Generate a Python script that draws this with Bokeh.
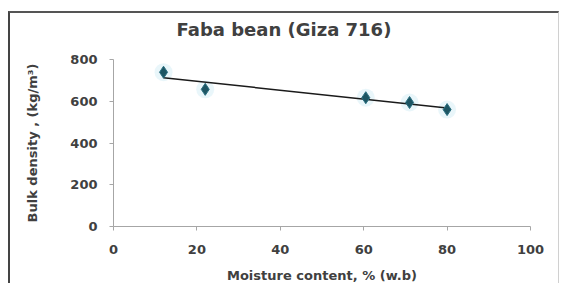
import numpy as np
from bokeh.plotting import figure
from bokeh.models import Range1d, FixedTicker, Title
from bokeh.embed import file_html
from bokeh.resources import INLINE

# Data
moisture = [12.0, 22.0, 60.5, 71.0, 80.0]
bulk_density = [739, 657, 617, 594, 560]
x_ticks = [0, 20, 40, 60, 80, 100]
y_ticks = [0, 200, 400, 600, 800]
title_text = "Faba bean (Giza 716)"

FONT = "DejaVu Sans"
TXT = "#404040"

p = figure(width=551, height=272, output_backend="svg", toolbar_location=None,
           x_range=Range1d(0, 100), y_range=Range1d(0, 800),
           min_border_left=103, min_border_right=31, min_border_top=46, min_border_bottom=58)
p.styles = {"border-left": "2px solid #444", "border-top": "2px solid #555",
            "border-right": "1px solid #d0d0d0", "margin-top": "11px", "margin-left": "8px"}
p.outline_line_color = None
p.xgrid.visible = False
p.ygrid.visible = False
p.background_fill_color = "white"
p.border_fill_color = "white"

spacer = Title(text=" ", text_font=FONT, text_font_size="12px", standoff=4)
p.add_layout(spacer, "above")
t = Title(text=title_text, align="left", offset=63,
          text_font=FONT, text_font_size="18px", text_font_style="bold",
          text_color=TXT, standoff=0)
p.add_layout(t, "above")

for ax in (p.xaxis[0], p.yaxis[0]):
    ax.axis_line_color = "#a6a6a6"
    ax.major_tick_line_color = "#a6a6a6"
    ax.major_tick_out = 4
    ax.major_tick_in = 0
    ax.minor_tick_line_color = None
    ax.major_label_text_font = FONT
    ax.major_label_text_font_size = "13px"
    ax.major_label_text_font_style = "bold"
    ax.major_label_text_color = TXT
    ax.axis_label_text_font = FONT
    ax.axis_label_text_font_style = "bold"
    ax.axis_label_text_color = TXT

p.xaxis[0].ticker = FixedTicker(ticks=x_ticks)
p.yaxis[0].ticker = FixedTicker(ticks=y_ticks)
p.xaxis[0].major_label_standoff = 14
p.yaxis[0].major_label_standoff = 12
p.xaxis[0].axis_label = "Moisture content, % (w.b)"
p.xaxis[0].axis_label_text_font_size = "13px"
p.xaxis[0].axis_label_standoff = 11
p.yaxis[0].axis_label = "Bulk density , (kg/m³)"
p.yaxis[0].axis_label_text_font_size = "13px"
p.yaxis[0].axis_label_standoff = 27

# linear trend line fitted to the data
slope, intercept = np.polyfit(moisture, bulk_density, 1)
tx = [min(moisture), max(moisture)]
ty = [slope * v + intercept for v in tx]

p.scatter(moisture, bulk_density, marker="circle", size=18, fill_color="#bfe6f2",
          fill_alpha=0.35, line_color=None)
p.line(tx, ty, line_color="#1a1a1a", line_width=1.5)
p.scatter(moisture, bulk_density, marker="diamond", size=12, fill_color="#1d5563",
          line_color="#2a6f80", line_width=1)

open("out.html", "w").write(file_html(p, INLINE))
